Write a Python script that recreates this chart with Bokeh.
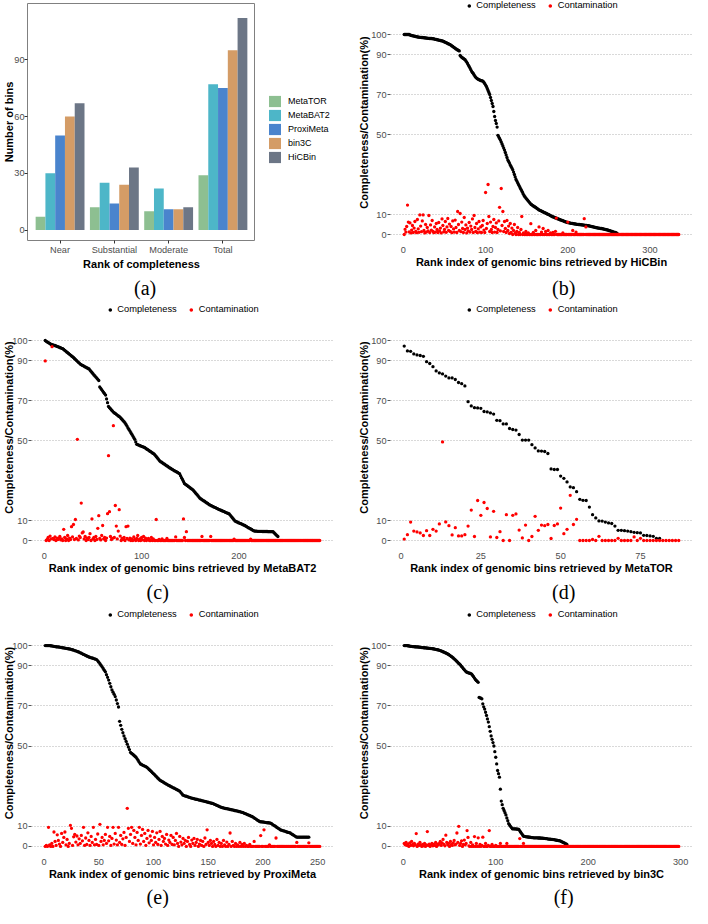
import numpy as np
from bokeh.plotting import figure
from bokeh.models import (ColumnDataSource, FactorRange, Range1d, FixedTicker,
                          Legend, LegendItem, Label)
from bokeh.transform import dodge
from bokeh.layouts import column, row
from bokeh.embed import file_html
from bokeh.resources import INLINE

# ---------------- data: panel (a) ----------------
categories = ["Near", "Substantial", "Moderate", "Total"]
methods = ["MetaTOR", "MetaBAT2", "ProxiMeta", "bin3C", "HiCBin"]
metator_bins = [7, 12, 10, 29]
metabat2_bins = [30, 25, 22, 77]
proximeta_bins = [50, 14, 11, 75]
bin3c_bins = [60, 24, 11, 95]
hicbin_bins = [67, 33, 12, 112]
bar_colors = ["#8dbf91", "#4db6c8", "#4a84cd", "#d49c66", "#6c7686"]
bar_yticks = [0, 30, 60, 90]

# ---------------- data: scatter panels ----------------
scatter_yticks = [0, 10, 50, 70, 90, 100]

hicbin_completeness = [
    100, 100, 100, 100, 100, 100, 100, 99.8, 99.6, 99.5,
    99.4, 99.3, 99.2, 99.1, 99.0, 98.9, 98.8, 98.7, 98.7, 98.6,
    98.6, 98.5, 98.5, 98.4, 98.4, 98.3, 98.3, 98.2, 98.2, 98.1,
    98.1, 98.0, 98.0, 98.0, 97.9, 97.9, 97.8, 97.7, 97.6, 97.5,
    97.4, 97.3, 97.2, 97.1, 97.0, 96.9, 96.8, 96.7, 96.5, 96.3,
    96.1, 95.9, 95.7, 95.5, 95.3, 95.1, 94.9, 94.6, 94.3, 94.0,
    93.7, 93.4, 93.1, 92.8, 92.5, 92.3, 92.0, 91.8, 89.5, 89.0,
    88.6, 88.3, 88.0, 87.7, 87.4, 86.8, 86.2, 85.5, 84.7, 84.0,
    83.2, 82.4, 81.6, 81.0, 80.5, 79.8, 79.2, 78.6, 78.2, 77.9,
    77.6, 77.4, 77.2, 77.0, 76.9, 76.8, 76.6, 76.0, 75.4, 74.7,
    74.0, 73.0, 72.0, 71.0, 70.0, 68.5, 67.0, 65.5, 64.0, 61.5,
    59.0, 57.0, 55.5, 53.7, 49.6, 48.8, 48.0, 47.2, 46.3, 45.3,
    44.3, 43.2, 42.2, 41.0, 39.8, 38.5, 37.3, 36.5, 35.7, 34.8,
    34.0, 33.2, 32.4, 31.2, 30.0, 28.8, 27.5, 26.7, 25.9, 25.0,
    24.2, 23.4, 22.6, 21.8, 21.0, 20.1, 19.3, 18.8, 18.2, 17.7,
    17.2, 16.7, 16.2, 15.7, 15.2, 14.9, 14.6, 14.3, 14.0, 13.8,
    13.5, 13.2, 12.9, 12.6, 12.3, 12.1, 11.9, 11.7, 11.5, 11.3,
    11.1, 10.9, 10.7, 10.5, 10.3, 10.1, 9.9, 9.7, 9.4, 9.2,
    9.0, 8.8, 8.7, 8.5, 8.3, 8.2, 8.0, 7.8, 7.7, 7.5,
    7.3, 7.2, 7.0, 6.9, 6.7, 6.5, 6.4, 6.2, 6.1, 6.0,
    5.9, 5.8, 5.7, 5.6, 5.6, 5.5, 5.4, 5.3, 5.3, 5.2,
    5.1, 5.1, 5.0, 5.0, 4.9, 4.9, 4.8, 4.8, 4.7, 4.7,
    4.6, 4.6, 4.5, 4.4, 4.4, 4.3, 4.2, 4.1, 4.0, 3.9,
    3.8, 3.7, 3.6, 3.5, 3.4, 3.3, 3.2, 3.2, 3.1, 3.0,
    3.0, 2.9, 2.8, 2.7, 2.6, 2.5, 2.4, 2.3, 2.2, 2.0,
    1.9, 1.8, 1.6, 1.5, 1.3, 1.2, 1.1, 1.0, 0.8, 0.6]
hicbin_contamination = [
    0, 2.6, 1.2, 4.0, 14.7, 6.2, 1.3, 5.8, 0.8, 2.2,
    4.5, 1.0, 3.2, 6.5, 1.5, 0.9, 7.5, 2.8, 1.1, 9.8,
    4.2, 1.4, 6.8, 9.8, 2.0, 0.8, 5.0, 1.2, 3.5, 1.8,
    9.5, 1.0, 4.8, 2.2, 7.0, 1.5, 0.9, 3.8, 1.2, 5.5,
    2.5, 1.0, 6.0, 1.8, 3.2, 0.8, 7.8, 4.5, 1.3, 2.5,
    6.5, 1.1, 3.8, 8.0, 2.0, 5.2, 1.5, 4.0, 0.9, 6.8,
    2.8, 1.2, 7.2, 3.5, 1.0, 11.5, 5.0, 2.0, 10.5, 1.4,
    6.2, 3.0, 1.0, 8.5, 2.5, 4.8, 0.8, 3.2, 1.8, 6.0,
    1.2, 4.2, 2.5, 7.8, 1.0, 9.5, 3.5, 1.5, 5.5, 0.9,
    2.8, 6.5, 1.2, 3.8, 1.0, 4.5, 7.0, 2.2, 1.0, 21.0,
    3.0, 5.5, 25.0, 9.0, 1.5, 6.2, 2.5, 1.0, 4.0, 7.5,
    1.2, 3.5, 5.8, 1.0, 2.5, 6.8, 13.6, 1.8, 23.0, 4.5,
    11.5, 1.5, 6.5, 3.0, 1.0, 7.0, 2.0, 4.2, 0.5, 5.5,
    1.0, 3.2, 0, 2.0, 5.0, 0.8, 0, 1.5, 3.5, 0,
    1.0, 0, 2.5, 9.0, 0, 0.8, 0, 0, 1.5, 0,
    0, 0.8, 0, 0, 5.4, 0, 0, 1.0, 0, 0,
    2.0, 0, 0, 0, 3.8, 0, 0, 1.2, 0, 3.0,
    0, 0, 1.5, 0, 0, 2.0, 0, 0, 0.8, 0,
    0, 1.0, 0, 0, 1.6, 8.2, 0, 0, 0, 0,
    0, 0, 0, 0.8, 0, 0, 0, 0, 0, 6.2,
    0, 0, 0, 0, 0, 2.0, 0, 0, 0, 1.2,
    0, 0, 0, 0, 0, 0, 0, 0, 0, 7.9,
    0, 3.8, 0, 0, 0, 0, 0, 0, 0, 0] + [0] * 105

metabat2_completeness = [
    100, 99.6, 99.3, 99.0, 98.7, 98.4, 98.0, 97.9, 97.8, 97.6,
    97.5, 97.3, 97.1, 96.9, 96.7, 96.5, 96.3, 96.1, 95.9, 95.5,
    95.1, 94.7, 94.3, 93.9, 93.5, 93.1, 92.7, 92.3, 91.9, 91.5,
    91.0, 90.6, 90.1, 89.6, 89.1, 88.7, 88.2, 87.9, 87.6, 87.4,
    87.1, 86.8, 86.6, 86.3, 86.0, 85.8, 85.2, 84.6, 84.0, 83.4,
    82.8, 82.3, 81.7, 81.2, 80.6, 80.0, 76.8, 76.1, 75.4, 74.7,
    74.0, 73.4, 72.7, 70.8, 68.9, 67.0, 66.4, 65.9, 65.3, 64.8,
    64.2, 63.8, 63.5, 63.1, 62.7, 62.3, 62.0, 61.6, 61.0, 60.5,
    59.9, 59.4, 58.8, 58.0, 57.2, 56.3, 55.5, 54.7, 53.9, 53.1,
    52.2, 51.4, 50.6, 49.3, 48.1, 47.9, 47.7, 47.5, 47.3, 47.1,
    46.9, 46.7, 46.5, 46.2, 45.8, 45.5, 45.2, 44.8, 44.5, 44.2,
    43.8, 43.5, 43.2, 42.6, 42.0, 41.4, 40.8, 40.2, 39.6, 39.3,
    39.0, 38.6, 38.3, 38.0, 37.6, 37.3, 37.0, 36.6, 36.3, 36.0,
    35.7, 35.4, 35.1, 34.8, 34.6, 34.3, 34.0, 33.7, 33.4, 32.4,
    31.4, 30.5, 29.5, 28.5, 28.1, 27.8, 27.4, 27.0, 26.7, 26.3,
    25.9, 25.6, 25.2, 24.6, 24.0, 23.4, 22.9, 22.3, 21.7, 21.1,
    20.8, 20.4, 20.1, 19.8, 19.5, 19.1, 18.8, 18.5, 18.1, 17.8,
    17.6, 17.3, 17.1, 16.8, 16.6, 16.4, 16.1, 15.9, 15.6, 15.4,
    15.2, 15.0, 14.8, 14.6, 14.4, 14.1, 13.9, 13.7, 13.5, 13.3,
    12.7, 12.1, 11.5, 10.9, 10.3, 9.7, 9.5, 9.3, 9.0, 8.8,
    8.6, 8.4, 8.2, 7.9, 7.7, 7.5, 7.2, 6.9, 6.6, 6.3,
    6.1, 5.8, 5.5, 5.2, 4.9, 4.7, 4.7, 4.7, 4.6, 4.6,
    4.6, 4.6, 4.6, 4.5, 4.5, 4.5, 4.5, 4.5, 4.5, 4.4,
    4.4, 4.4, 4.4, 4.4, 4.4, 3.9, 3.4, 2.9, 2.4, 2.0]
metabat2_contamination = [
    89.8, 0, 0.5, 1.5, 0, 2.2, 0.8, 96.9, 1.0, 0.5,
    1.8, 0, 1.2, 0.5, 1.0, 2.0, 0.3, 0.8, 0, 5.6,
    1.5, 0, 0.8, 2.5, 0, 1.2, 0.5, 6.9, 1.8, 8.0,
    0.5, 10.5, 1.0, 50.6, 0.3, 2.2, 1.5, 18.7, 3.8, 4.3,
    0.8, 2.0, 0, 1.2, 0.5, 1.5, 3.4, 0, 10.8, 0.8,
    1.5, 0, 2.0, 0.5, 6.1, 12.4, 1.0, 0.3, 2.5, 7.5,
    0.8, 1.5, 0, 1.2, 13.4, 42.4, 14.4, 2.0, 0.5, 1.0,
    57.4, 1.5, 17.5, 7.2, 0.8, 4.7, 15.4, 2.2, 0, 1.0,
    0.5, 1.5, 0, 6.9, 1.0, 7.2, 0.3, 1.2, 0, 0.8,
    0, 1.8, 0.5, 0, 1.0, 2.5, 0, 0.8, 0, 1.5,
    0.3, 2.0, 0, 1.2, 0, 0.5, 1.0, 0, 0, 1.5,
    0, 0.8, 0, 0, 10.5, 0, 0, 0.5, 0, 0,
    0.8, 0, 0, 0, 0, 1.0, 0, 0, 0, 0,
    0, 0, 0, 0, 1.8, 0, 0, 0, 0, 0,
    0, 0, 10.8, 1.5, 0, 4.4, 0, 0, 0, 0,
    0, 0, 0, 0, 0, 0, 0, 0, 0, 0,
    0, 2.0, 0, 0, 0, 0, 0, 0, 0, 0,
    2.0, 0, 0, 0, 0, 0, 0, 0, 0, 0,
    0, 0, 0, 0, 0, 0, 0, 0, 0, 0,
    0, 0, 0, 0, 0.7, 0, 0, 0, 0, 0,
    0, 0, 0, 0, 0, 0, 0, 0, 0, 0,
    0, 0.7, 0, 0, 0, 0, 0, 0, 0, 0] + [0] * 63

metator_completeness = [
    97.2, 94.8, 94.6, 93.3, 92.8, 92.5, 92.1, 89.4, 88.5, 86.9,
    84.8, 83.8, 83.3, 82.2, 81.3, 81.3, 80.5, 79.0, 78.4, 77.3,
    69.4, 67.3, 66.4, 66.3, 66.1, 64.5, 64.3, 63.8, 63.2, 60.1,
    59.9, 58.3, 58.3, 56.0, 55.5, 55.2, 53.0, 50.2, 50.2, 50.2,
    47.9, 46.3, 44.8, 44.7, 44.5, 43.5, 35.8, 35.5, 35.5, 32.2,
    31.1, 29.3, 26.8, 26.4, 24.4, 20.6, 20.1, 20.0, 16.7, 12.9,
    11.3, 9.8, 9.7, 9.2, 8.8, 8.5, 7.2, 5.1, 5.1, 4.9,
    4.7, 4.4, 4.1, 3.9, 3.8, 2.6, 2.5, 2.3, 2.1, 1.1,
    1.0]
metator_contamination = [
    0.7, 2.9, 9.2, 4.7, 4.3, 3.8, 2.5, 4.9, 2.5, 5.6,
    4.7, 8.3, 49.3, 9.3, 7.4, 2.8, 6.4, 2.3, 2.3, 2.9,
    7.2, 15.2, 2.0, 20.0, 12.6, 19.0, 16.0, 1.8, 14.6, 1.5,
    4.4, 0, 12.9, 0, 12.6, 13.3, 5.2, 1.3, 7.7, 0,
    2.0, 12.1, 5.1, 7.7, 7.4, 8.0, 1.0, 7.5, 8.3, 16.2,
    3.4, 5.6, 22.6, 8.0, 10.6,
    0, 0, 0, 0, 0.5, 0, 2.1, 0, 0, 0,
    0, 0, 1.1, 0, 0, 0, 0, 1.8, 0, 1.1] + [0] * 12

proximeta_completeness = [
    100, 100, 100, 100, 100, 99.9, 99.8, 99.7, 99.6, 99.5,
    99.4, 99.3, 99.3, 99.2, 99.1, 99.0, 98.9, 98.8, 98.7, 98.6,
    98.5, 98.4, 98.3, 98.2, 98.0, 97.9, 97.7, 97.5, 97.3, 97.1,
    96.9, 96.7, 96.4, 96.2, 95.9, 95.6, 95.4, 95.1, 94.8, 94.6,
    94.3, 94.1, 93.9, 93.8, 93.6, 93.4, 93.2, 93.0, 92.4, 91.7,
    91.0, 90.2, 89.4, 88.6, 87.7, 86.9, 85.5, 84.2, 82.8, 81.2,
    79.5, 77.9, 76.8, 75.7, 74.6, 72.9, 71.1, 69.4, 62.3, 60.3,
    58.3, 56.6, 55.0, 53.6, 52.3, 50.9, 49.5, 48.2, 46.8, 46.3,
    45.9, 45.4, 44.9, 44.4, 43.6, 42.8, 41.9, 41.1, 40.8, 40.5,
    40.2, 40.0, 39.7, 39.4, 38.9, 38.3, 37.8, 37.3, 36.7, 36.2,
    35.7, 35.1, 34.6, 34.0, 33.5, 32.9, 32.6, 32.3, 32.0, 31.6,
    31.3, 31.0, 30.7, 30.4, 30.1, 29.8, 29.5, 29.2, 29.0, 28.7,
    28.4, 28.1, 27.8, 27.5, 26.8, 26.2, 25.5, 25.3, 25.1, 25.0,
    24.8, 24.6, 24.4, 24.2, 24.1, 23.9, 23.8, 23.6, 23.5, 23.4,
    23.2, 23.1, 23.0, 22.8, 22.7, 22.6, 22.4, 22.3, 22.1, 22.0,
    21.8, 21.7, 21.5, 21.4, 21.2, 20.9, 20.7, 20.4, 20.2, 19.9,
    19.7, 19.5, 19.3, 19.2, 19.0, 18.9, 18.8, 18.7, 18.6, 18.4,
    18.3, 18.2, 18.1, 17.9, 17.8, 17.7, 17.6, 17.4, 17.3, 17.1,
    17.0, 16.8, 16.5, 16.3, 16.1, 15.8, 15.6, 15.4, 15.1, 14.9,
    14.6, 14.2, 13.9, 13.5, 13.1, 12.8, 12.4, 12.3, 12.2, 12.2,
    12.1, 12.0, 11.9, 11.8, 11.8, 11.7, 11.6, 11.3, 10.9, 10.5,
    10.2, 9.8, 9.4, 9.0, 8.7, 8.3, 8.1, 7.9, 7.8, 7.6,
    7.4, 7.2, 7.0, 6.9, 6.7, 6.3, 6.0, 5.6, 5.3, 4.9,
    4.6, 4.6, 4.6, 4.6, 4.6, 4.6, 4.6, 4.6, 4.6, 4.6,
    4.6, 4.6]
proximeta_contamination = [
    0, 0.5, 0, 9.5, 0.8, 0, 1.5, 0, 7.2, 2.5,
    0.5, 5.8, 3.0, 1.2, 0, 6.5, 2.0, 4.5, 7.2, 0.8,
    3.5, 0, 1.5, 10.5, 9.0, 0.5, 4.8, 6.0, 2.2, 5.2,
    0.8, 3.8, 1.5, 5.5, 2.8, 9.5, 0.5, 4.2, 1.0, 6.8,
    3.0, 0.5, 5.0, 2.0, 9.5, 0.8, 3.5, 1.0, 6.2, 0.5,
    11.0, 2.5, 4.5, 0.8, 3.0, 6.0, 1.5, 9.5, 2.8, 5.0,
    0.5, 4.0, 9.5, 1.2, 6.5, 3.2, 0.8, 9.5, 2.0, 5.5,
    1.0, 3.8, 7.0, 0.5, 4.5, 19.0, 9.0, 2.5, 6.0, 9.5,
    1.5, 8.0, 4.5, 0.8, 7.0, 3.0, 9.5, 1.2, 5.5, 8.5,
    2.5, 6.5, 0.5, 4.0, 8.0, 1.8, 5.2, 3.0, 7.5, 0.8,
    4.5, 2.0, 6.8, 1.0, 3.5, 7.5, 0.5, 5.0, 2.5, 4.0,
    1.2, 6.0, 0.5, 3.2, 2.0, 5.5, 1.0, 4.5, 0.8, 3.0,
    6.5, 1.5, 0, 5.0, 2.2, 0.8, 4.0, 1.5, 3.0, 0,
    2.5, 4.5, 1.0, 0, 3.2, 1.5, 4.0, 0.5, 2.0, 3.5,
    0, 1.2, 3.0, 0.5, 2.5, 0, 4.2, 1.0, 8.3, 2.0,
    0.5, 3.0, 1.5, 0, 2.5, 1.0, 0, 3.5, 0.5, 2.0,
    0, 1.5, 0, 3.0, 0.8, 0, 2.2, 0, 1.0, 6.7,
    0, 2.5, 0.5, 0, 1.5, 0, 0.8, 0, 2.0, 0,
    1.0, 0, 1.5, 0, 0.5, 0, 0, 1.0, 0, 0,
    0, 2.5, 0, 0, 0, 0, 0, 5.4, 0, 0,
    8.3, 0, 0, 0, 0, 0.8, 0, 0, 0, 0,
    0, 4.2, 0, 0, 0, 0, 0, 0, 0, 0,
    0, 0, 0, 0, 0, 0, 0, 0, 0, 0,
    2.0, 0, 0, 0, 0, 0, 0, 0, 0, 0,
    0, 1.8, 0, 0, 0, 0, 0, 0, 0, 0,
    0, 0]

bin3c_completeness = [
    100, 100, 100, 100, 99.9, 99.8, 99.7, 99.6, 99.6, 99.5,
    99.5, 99.4, 99.4, 99.3, 99.3, 99.3, 99.2, 99.2, 99.1, 99.0,
    99.0, 98.9, 98.9, 98.8, 98.8, 98.7, 98.7, 98.6, 98.6, 98.5,
    98.5, 98.4, 98.3, 98.2, 98.1, 98.0, 97.9, 97.8, 97.6, 97.5,
    97.3, 97.1, 96.9, 96.7, 96.5, 96.3, 96.1, 95.8, 95.6, 95.2,
    94.9, 94.6, 94.2, 93.8, 93.4, 93.0, 92.5, 92.1, 91.6, 91.1,
    90.7, 90.2, 89.6, 89.1, 88.5, 88.0, 87.4, 86.9, 86.7, 86.5,
    86.3, 86.2, 86.0, 85.8, 85.1, 84.5, 83.8, 83.1, 82.6, 82.2,
    81.7, 74.2, 74.0, 73.8, 73.5, 71.0, 69.5, 68.4, 66.8, 65.2,
    63.5, 61.9, 59.6, 57.3, 55.0, 53.3, 51.7, 50.0, 47.2, 44.4,
    41.1, 37.8, 36.2, 34.5, 28.5, 22.6, 20.8, 19.0, 17.9, 16.8,
    15.7, 14.2, 12.8, 11.3, 10.7, 10.0, 9.4, 8.8, 8.8, 8.8,
    8.7, 8.7, 8.6, 8.6, 8.5, 7.8, 7.1, 6.4, 5.8, 5.1,
    5.0, 4.9, 4.8, 4.8, 4.7, 4.6, 4.6, 4.5, 4.4, 4.4,
    4.3, 4.3, 4.3, 4.3, 4.3, 4.2, 4.2, 4.2, 4.1, 4.1,
    4.1, 4.0, 4.0, 3.9, 3.9, 3.8, 3.7, 3.7, 3.6, 3.5,
    3.5, 3.4, 3.4, 3.3, 3.2, 3.1, 3.0, 2.9, 2.9, 2.7,
    2.5, 2.2, 2.0, 1.8, 1.5, 1.3, 1.0]
bin3c_contamination = [
    1.5, 0.8, 2.0, 0.5, 1.2, 0, 1.8, 0.5, 2.5, 1.0,
    0.3, 1.5, 0.8, 6.4, 0, 1.2, 0.5, 2.0, 0.8, 0,
    1.0, 0.3, 1.5, 0, 0.8, 7.4, 0.5, 1.2, 0, 0.8,
    1.5, 0.3, 1.0, 0.5, 2.0, 0, 1.2, 0.8, 1.5, 2.5,
    0.5, 1.8, 3.5, 1.0, 0.3, 5.6, 2.0, 0.8, 1.5, 0,
    2.5, 1.0, 0.5, 1.8, 3.0, 0.8, 1.2, 6.7, 2.0, 10.0,
    0.5, 1.5, 2.8, 0, 1.0, 3.2, 0.8, 1.5, 7.9, 4.5,
    0.3, 0, 2.0, 0, 0.8, 0, 4.9, 0, 1.5, 0,
    4.3, 0, 1.0, 0, 0.5, 4.6, 0, 0, 1.5, 0,
    0, 0.5, 7.9, 0, 0, 1.0, 0, 0, 0, 0.5,
    0, 0, 0, 0, 1.5, 0, 0, 0, 0, 0,
    0, 1.5, 0, 0, 0, 0, 0, 0, 0, 0,
    0, 0, 0, 0, 0, 3.9, 0, 0, 0, 1.5] + [0] * 168

# ---------------- layout constants ----------------
SANS = "Liberation Sans"
SERIF = "Liberation Serif"
COL_W = 346
ROW_H = {1: 303, 2: 305, 3: 300}
ROW_T = {1: 24, 2: 27, 3: 27}      # where y = 105 sits (px from row top)
ROW_TA = {1: 0, 2: 1, 3: 1}        # actual frame top (legend lives inside)
ROW_B = {1: 59, 2: 58, 3: 52}      # frame bottom distance from row bottom
AXIS_B = 28                        # room kept for the x axis in each figure
LABEL_D = {1: 43.7, 2: 41.5, 3: 40.5}   # px below frame bottom for "(x)"
TAG_X = {0: 144.6, 1: 198.4}       # centre of "(x)" from column left


def style_axes(p):
    for ax in (p.xaxis[0], p.yaxis[0]):
        ax.axis_line_color = None
        ax.minor_tick_line_color = None
        ax.major_label_text_font = SANS
        ax.major_label_text_font_size = "9.2px"
        ax.major_label_text_color = "#4d4d4d"
        ax.axis_label_text_font = SANS
        ax.axis_label_text_font_size = "11px"
        ax.axis_label_text_font_style = "bold"
        ax.axis_label_text_color = "black"


def tag_figure(text, rown, col):
    h = ROW_B[rown] - AXIS_B
    t = figure(width=COL_W, height=h, x_range=Range1d(0, COL_W),
               y_range=Range1d(0, h), output_backend="svg",
               toolbar_location=None, tools="", x_axis_location=None,
               y_axis_location=None, min_border=0)
    t.outline_line_color = None
    t.xgrid.visible = False
    t.ygrid.visible = False
    t.add_layout(Label(x=TAG_X[col], y=h - (LABEL_D[rown] - AXIS_B), text=text,
                       text_align="center", text_baseline="middle",
                       text_font=SERIF, text_font_size="20px",
                       text_color="black"))
    return t


def scatter_panel(comp, cont, tool, xticks, col, rown, label):
    n = len(cont)
    pad = 0.05 * (n - 1)
    left, right = (30, 13) if col == 0 else (44, 0)
    H, T, TA, B = ROW_H[rown], ROW_T[rown], ROW_TA[rown], ROW_B[rown]
    main_h = H - (B - AXIS_B)
    frame_h = H - T - B
    y_top = 105 + (T - TA) * 110.0 / frame_h
    p = figure(width=COL_W, height=main_h,
               x_range=Range1d(1 - pad, n + pad), y_range=Range1d(-5, y_top),
               output_backend="svg", toolbar_location=None, tools="",
               min_border_left=left, min_border_right=right,
               min_border_top=TA, min_border_bottom=AXIS_B)
    p.outline_line_color = None
    src_c = ColumnDataSource(dict(x=np.arange(1, len(comp) + 1), y=comp))
    src_r = ColumnDataSource(dict(x=np.arange(1, n + 1), y=cont))
    r1 = p.scatter("x", "y", source=src_c, size=3.3, fill_color="black",
                   line_color=None)
    r2 = p.scatter("x", "y", source=src_r, size=3.3, fill_color="#ff0000",
                   line_color=None)
    p.xgrid.visible = False
    p.ygrid.ticker = FixedTicker(ticks=scatter_yticks)
    p.ygrid.grid_line_color = "#b3b3b3"
    p.ygrid.grid_line_dash = "1 2"
    p.ygrid.grid_line_width = 1
    style_axes(p)
    p.yaxis.ticker = FixedTicker(ticks=scatter_yticks)
    p.xaxis.ticker = FixedTicker(ticks=xticks)
    p.yaxis.major_tick_out = 3
    p.yaxis.major_tick_in = 0
    p.yaxis.major_tick_line_color = "#555555"
    p.yaxis.major_label_standoff = 1
    p.yaxis.axis_label = "Completeness/Contamination(%)"
    p.yaxis.axis_label_standoff = -6 if col == 0 else -2
    p.xaxis.major_tick_out = 0
    p.xaxis.major_tick_in = 0
    p.xaxis.major_tick_line_color = None
    p.xaxis.major_label_standoff = 2
    p.xaxis.axis_label = "Rank index of genomic bins retrieved by " + tool
    p.xaxis.axis_label_standoff = 0
    leg = Legend(items=[LegendItem(label="Completeness", renderers=[r1]),
                        LegendItem(label="Contamination", renderers=[r2])],
                 orientation="horizontal", location="top_center",
                 glyph_width=9, glyph_height=9, label_standoff=3, spacing=10,
                 padding=0, margin=0, border_line_color=None,
                 background_fill_alpha=0, label_text_font=SANS,
                 label_text_font_size="9.3px", label_text_color="black")
    p.add_layout(leg)
    return column(p, tag_figure(label, rown, col))


# ---------------- panel (a) ----------------
A_W, A_L, A_T = 255, 26, 3
a_main_h = ROW_H[1] - (ROW_B[1] - AXIS_B)
pa = figure(width=A_W, height=a_main_h,
            x_range=FactorRange(factors=categories, range_padding=0.1,
                                range_padding_units="absolute"),
            y_range=Range1d(-5.5, 119.7),
            output_backend="svg", toolbar_location=None, tools="",
            min_border_left=A_L, min_border_right=0,
            min_border_top=A_T, min_border_bottom=AXIS_B)
bar_src = ColumnDataSource(dict(cat=categories, MetaTOR=metator_bins,
                                MetaBAT2=metabat2_bins, ProxiMeta=proximeta_bins,
                                bin3C=bin3c_bins, HiCBin=hicbin_bins))
bar_w = 0.9 / len(methods)
for k, (m, c) in enumerate(zip(methods, bar_colors)):
    off = (k - (len(methods) - 1) / 2) * bar_w
    pa.vbar(x=dodge("cat", off, range=pa.x_range), top=m, width=bar_w,
            source=bar_src, fill_color=c, line_color=None)
pa.outline_line_color = "#808080"
pa.outline_line_width = 1
pa.xgrid.visible = False
pa.ygrid.visible = False
style_axes(pa)
pa.yaxis.ticker = FixedTicker(ticks=bar_yticks)
for ax in (pa.xaxis[0], pa.yaxis[0]):
    ax.major_tick_out = 3
    ax.major_tick_in = 0
    ax.major_tick_line_color = "#333333"
pa.yaxis.major_label_standoff = 0
pa.yaxis.axis_label = "Number of bins"
pa.yaxis.axis_label_standoff = -4
pa.xaxis.major_label_standoff = 1
pa.xaxis.axis_label = "Rank of completeness"
pa.xaxis.axis_label_standoff = 0

# key of panel (a): its own narrow figure beside the bars (same frame box)
pl = figure(width=COL_W - A_W, height=a_main_h,
            x_range=FactorRange(factors=categories), y_range=Range1d(-1001, -1000),
            output_backend="svg", toolbar_location=None, tools="",
            x_axis_location=None, y_axis_location=None,
            min_border_left=0, min_border_right=0,
            min_border_top=A_T, min_border_bottom=AXIS_B)
pl.outline_line_color = None
pl.xgrid.visible = False
pl.ygrid.visible = False
key_items = []
for m, c in zip(methods, bar_colors):
    r = pl.vbar(x="cat", top=m, width=0, source=bar_src, fill_color=c,
                line_color=None)
    key_items.append(LegendItem(label=m, renderers=[r]))
key = Legend(items=key_items, location=(12, 76), glyph_width=15,
             glyph_height=14, label_standoff=6, spacing=0, padding=0, margin=0,
             border_line_color=None, background_fill_alpha=0,
             label_text_font=SANS, label_text_font_size="9px",
             label_text_color="black", label_height=14)
pl.add_layout(key)
panel_a = column(row(pa, pl), tag_figure("(a)", 1, 0))

# ---------------- scatter panels ----------------
pb = scatter_panel(hicbin_completeness, hicbin_contamination, "HiCBin",
                   [0, 100, 200, 300], 1, 1, "(b)")
pc = scatter_panel(metabat2_completeness, metabat2_contamination, "MetaBAT2",
                   [0, 100, 200], 0, 2, "(c)")
pd_ = scatter_panel(metator_completeness, metator_contamination, "MetaTOR",
                    [0, 25, 50, 75], 1, 2, "(d)")
pe = scatter_panel(proximeta_completeness, proximeta_contamination, "ProxiMeta",
                   [0, 50, 100, 150, 200, 250], 0, 3, "(e)")
pf = scatter_panel(bin3c_completeness, bin3c_contamination, "bin3C",
                   [0, 100, 200, 300], 1, 3, "(f)")

layout = column(row(panel_a, pb), row(pc, pd_), row(pe, pf))
open("out.html", "w").write(file_html(layout, INLINE))
